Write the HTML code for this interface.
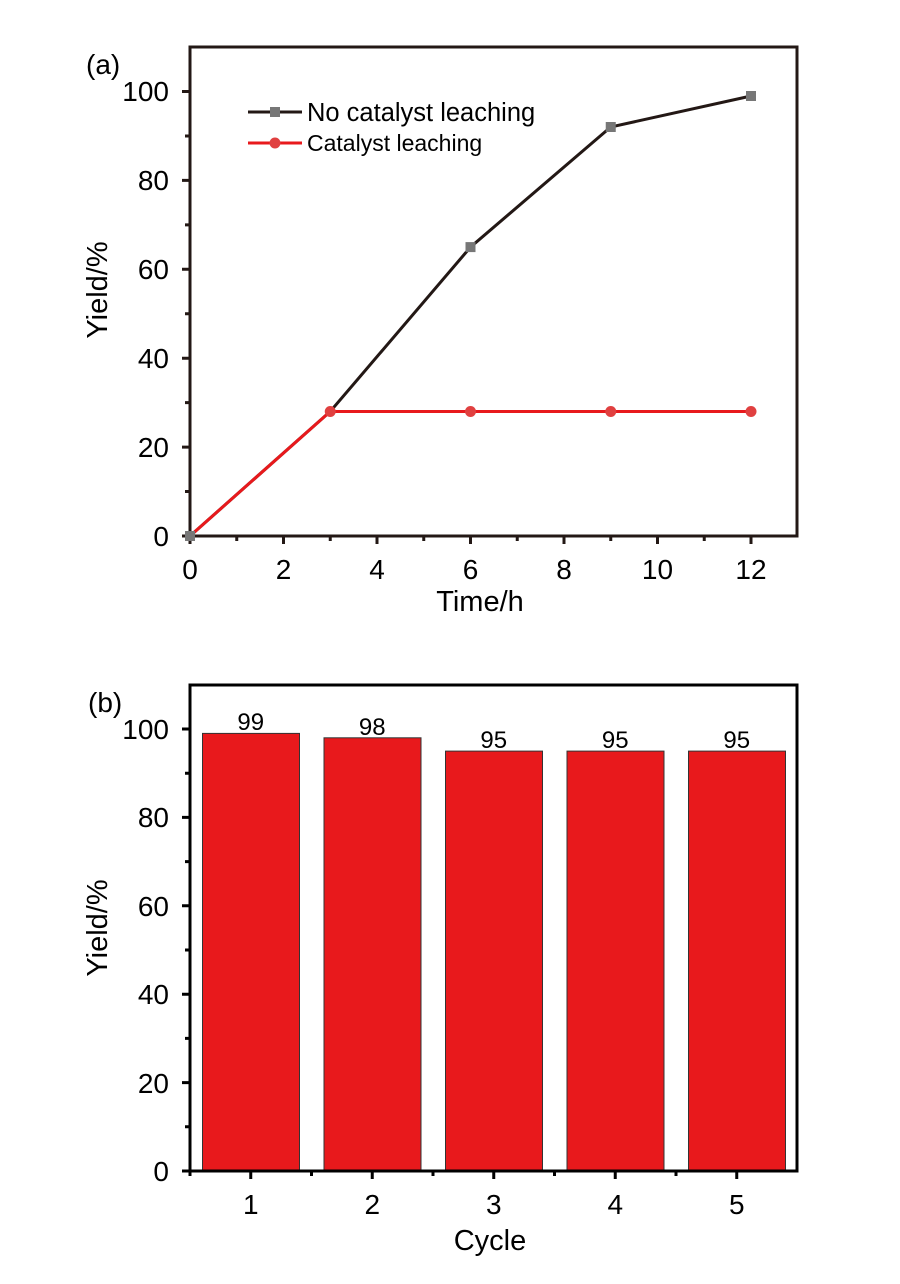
<!DOCTYPE html>
<html><head><style>html,body{margin:0;padding:0;background:#fff}</style></head>
<body>
<svg width="900" height="1279" viewBox="0 0 900 1279" xmlns="http://www.w3.org/2000/svg" font-family="Liberation Sans, Arial, sans-serif">
<rect width="900" height="1279" fill="#fff"/>
<!-- Panel a -->
<g stroke="#231815" stroke-width="3" fill="none">
<rect x="190" y="47" width="607" height="489"/>
<path d="M190 536v8M283.5 536v8M377 536v8M470.5 536v8M564 536v8M657.5 536v8M751 536v8"/>
<path d="M236.75 536v5M330.25 536v5M423.75 536v5M517.25 536v5M610.75 536v5M704.25 536v5"/>
<path d="M190 536h-8M190 447.1h-8M190 358.2h-8M190 269.3h-8M190 180.4h-8M190 91.5h-8"/>
<path d="M190 491.55h-5M190 402.65h-5M190 313.75h-5M190 224.85h-5M190 135.95h-5"/>
</g>
<g font-size="28" fill="#000" text-anchor="middle">
<text x="190" y="579">0</text><text x="283.5" y="579">2</text><text x="377" y="579">4</text><text x="470.5" y="579">6</text><text x="564" y="579">8</text><text x="657.5" y="579">10</text><text x="751" y="579">12</text>
</g>
<g font-size="28" fill="#000" text-anchor="end">
<text x="169" y="546">0</text><text x="169" y="457">20</text><text x="169" y="368">40</text><text x="169" y="279">60</text><text x="169" y="190">80</text><text x="169" y="101">100</text>
</g>
<text x="480" y="611" font-size="29" text-anchor="middle">Time/h</text>
<text transform="translate(107 290) rotate(-90)" font-size="29" text-anchor="middle">Yield/%</text>
<text x="86" y="74" font-size="28">(a)</text>
<polyline points="190,536 330.25,411.5 470.5,247.1 610.75,127 751,96" fill="none" stroke="#231815" stroke-width="3"/>
<polyline points="190,536 330.25,411.5 470.5,411.5 610.75,411.5 751,411.5" fill="none" stroke="#e8191c" stroke-width="3"/>
<g fill="#777"><rect x="185" y="531" width="10" height="10"/><rect x="465.5" y="242.1" width="10" height="10"/><rect x="605.75" y="122" width="10" height="10"/><rect x="746" y="91" width="10" height="10"/></g>
<g fill="#e04040"><circle cx="330.25" cy="411.5" r="5.5"/><circle cx="470.5" cy="411.5" r="5.5"/><circle cx="610.75" cy="411.5" r="5.5"/><circle cx="751" cy="411.5" r="5.5"/></g>
<line x1="248" y1="112" x2="302" y2="112" stroke="#231815" stroke-width="3"/>
<rect x="270" y="107" width="10" height="10" fill="#777"/>
<text x="307" y="121" font-size="25.5">No catalyst leaching</text>
<line x1="248" y1="143" x2="302" y2="143" stroke="#e8191c" stroke-width="3"/>
<circle cx="275" cy="143" r="5.5" fill="#e04040"/>
<text x="307" y="151" font-size="23">Catalyst leaching</text>
<!-- Panel b -->
<g fill="#e8191c" stroke="#333" stroke-width="1">
<rect x="202.5" y="733.4" width="97" height="437.6"/>
<rect x="324" y="737.8" width="97" height="433.2"/>
<rect x="445.5" y="751.1" width="97" height="419.9"/>
<rect x="567" y="751.1" width="97" height="419.9"/>
<rect x="688.5" y="751.1" width="97" height="419.9"/>
</g>
<g stroke="#000" stroke-width="3" fill="none">
<rect x="190" y="685" width="607" height="486"/>
<path d="M250.75 1171v8M372.25 1171v8M493.75 1171v8M615.25 1171v8M736.75 1171v8"/>
<path d="M190 1171v5M311.5 1171v5M433 1171v5M554.5 1171v5M676 1171v5"/>
<path d="M190 1171h-8M190 1082.6h-8M190 994.2h-8M190 905.8h-8M190 817.4h-8M190 729h-8"/>
<path d="M190 1126.8h-5M190 1038.4h-5M190 950h-5M190 861.6h-5M190 773.2h-5"/>
</g>
<g font-size="28" fill="#000" text-anchor="middle">
<text x="250.75" y="1214">1</text><text x="372.25" y="1214">2</text><text x="493.75" y="1214">3</text><text x="615.25" y="1214">4</text><text x="736.75" y="1214">5</text>
</g>
<g font-size="28" fill="#000" text-anchor="end">
<text x="169" y="1181">0</text><text x="169" y="1093">20</text><text x="169" y="1004">40</text><text x="169" y="916">60</text><text x="169" y="827">80</text><text x="169" y="739">100</text>
</g>
<g font-size="24" fill="#000" text-anchor="middle">
<text x="250.75" y="730">99</text><text x="372.25" y="735">98</text><text x="493.75" y="748">95</text><text x="615.25" y="748">95</text><text x="736.75" y="748">95</text>
</g>
<text x="490" y="1250" font-size="29" text-anchor="middle">Cycle</text>
<text transform="translate(107 928) rotate(-90)" font-size="29" text-anchor="middle">Yield/%</text>
<text x="88" y="712" font-size="28">(b)</text>
</svg>
</body></html>
